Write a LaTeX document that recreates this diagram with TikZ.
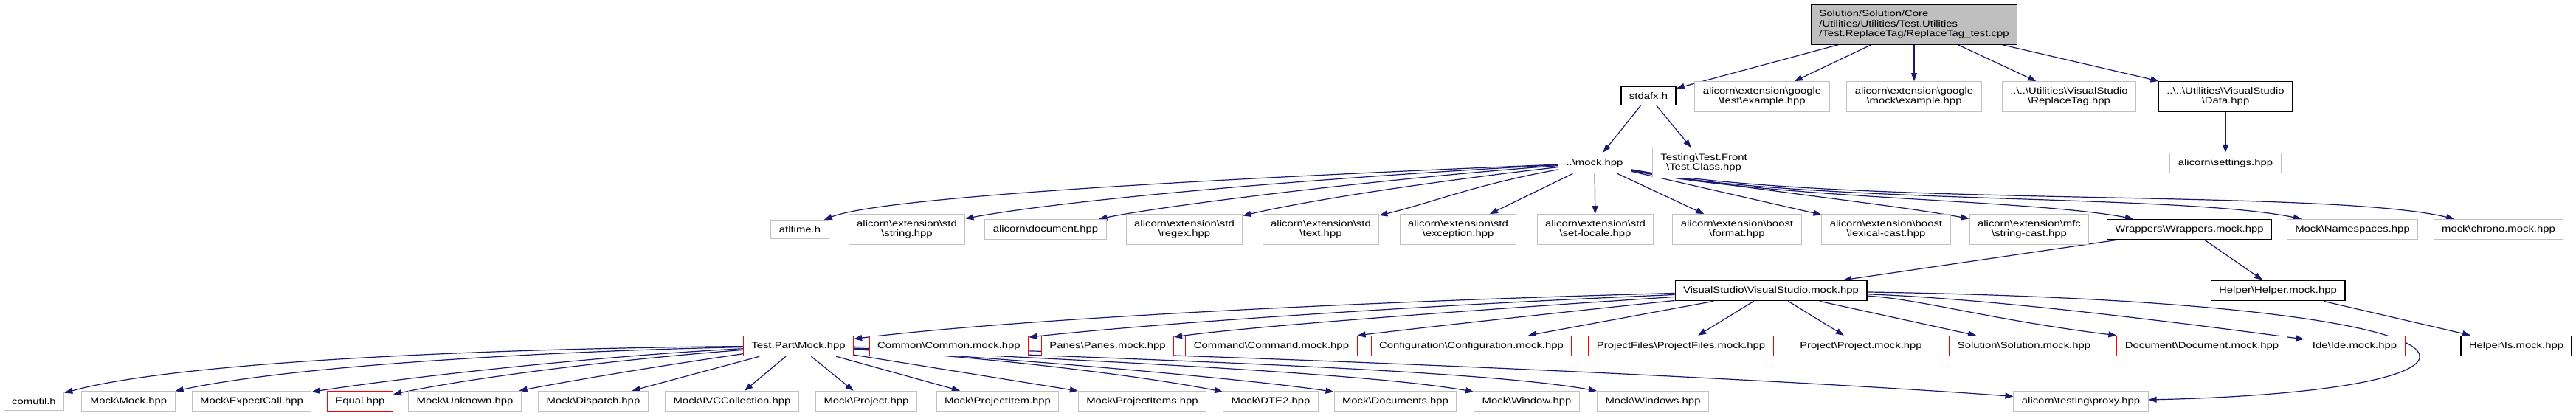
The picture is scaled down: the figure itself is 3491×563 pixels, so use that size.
\documentclass[tikz,border=0pt]{standalone}
\usepackage{fontspec}
\usetikzlibrary{arrows.meta,backgrounds}

\newfontfamily\dotfont{Liberation Sans}[FakeStretch=1.21]
\newcommand{\bks}{\textbackslash}
\definecolor{edgeblue}{HTML}{191970}
\definecolor{boxgray}{HTML}{BFBFBF}

\begin{document}
\begin{tikzpicture}[x=1pt, y=-1pt,
  >={Triangle[length=11pt,width=8pt]},
  file/.style={draw=boxgray, line width=1pt, fill=white, align=center, inner xsep=11pt, inner ysep=8pt,
    minimum height=25pt, font=\dotfont\fontsize{12.3}{13.3}\selectfont},
  doc/.style={file, draw=black, line width=1.3pt},
  redbox/.style={file, draw=red},
  top/.style={doc, fill=boxgray, align=left},
  edge/.style={->, draw=edgeblue, line width=1.2pt}]
  \useasboundingbox (0,0) rectangle (3491,563);

  % source file and its direct includes
  \node[top] (root) at (2594,33) {Solution/Solution/Core\\/Utilities/Utilities/Test.Utilities\\/Test.ReplaceTag/ReplaceTag\_test.cpp};
  \node[doc] (stdafx) at (2234,130) {stdafx.h};
  \node[file] (gtest) at (2388,131) {alicorn\bks extension\bks google\\\bks test\bks example.hpp};
  \node[file] (gmock) at (2594,131) {alicorn\bks extension\bks google\\\bks mock\bks example.hpp};
  \node[file] (rtag) at (2804,131) {..\bks..\bks Utilities\bks VisualStudio\\\bks ReplaceTag.hpp};
  \node[doc] (data) at (3016,131) {..\bks..\bks Utilities\bks VisualStudio\\\bks Data.hpp};

  \node[doc] (mock) at (2161,221) {..\bks mock.hpp};
  \node[file] (tclass) at (2309,221) {Testing\bks Test.Front\\\bks Test.Class.hpp};
  \node[file] (settings) at (3016,221) {alicorn\bks settings.hpp};

  % mock.hpp includes
  \node[file] (atltime) at (1084,311) {atltime.h};
  \node[file] (stdstr) at (1229,311) {alicorn\bks extension\bks std\\\bks string.hpp};
  \node[file] (document) at (1417,311) {alicorn\bks document.hpp};
  \node[file] (regex) at (1605,311) {alicorn\bks extension\bks std\\\bks regex.hpp};
  \node[file] (stdtext) at (1790,311) {alicorn\bks extension\bks std\\\bks text.hpp};
  \node[file] (except) at (1976,311) {alicorn\bks extension\bks std\\\bks exception.hpp};
  \node[file] (locale) at (2162,311) {alicorn\bks extension\bks std\\\bks set-locale.hpp};
  \node[file] (bformat) at (2354,311) {alicorn\bks extension\bks boost\\\bks format.hpp};
  \node[file] (lexcast) at (2556,311) {alicorn\bks extension\bks boost\\\bks lexical-cast.hpp};
  \node[file] (strcast) at (2750,311) {alicorn\bks extension\bks mfc\\\bks string-cast.hpp};
  \node[doc] (wrappers) at (2967,311) {Wrappers\bks Wrappers.mock.hpp};
  \node[file] (nspaces) at (3188,311) {Mock\bks Namespaces.hpp};
  \node[file] (chrono) at (3386,311) {mock\bks chrono.mock.hpp};

  \node[doc] (vsmock) at (2400,394) {VisualStudio\bks VisualStudio.mock.hpp};
  \node[doc] (helper) at (3087,394) {Helper\bks Helper.mock.hpp};

  % VisualStudio.mock.hpp includes
  \node[redbox] (tpmock) at (1082,469) {Test.Part\bks Mock.hpp};
  \node[redbox] (common) at (1286,469) {Common\bks Common.mock.hpp};
  \node[redbox] (panes) at (1501,469) {Panes\bks Panes.mock.hpp};
  \node[redbox] (command) at (1723,469) {Command\bks Command.mock.hpp};
  \node[redbox] (config) at (1994,469) {Configuration\bks Configuration.mock.hpp};
  \node[redbox] (pfiles) at (2278,469) {ProjectFiles\bks ProjectFiles.mock.hpp};
  \node[redbox] (project) at (2522,469) {Project\bks Project.mock.hpp};
  \node[redbox] (solution) at (2743,469) {Solution\bks Solution.mock.hpp};
  \node[redbox] (docmock) at (2984,469) {Document\bks Document.mock.hpp};
  \node[redbox] (ide) at (3191,469) {Ide\bks Ide.mock.hpp};
  \node[doc] (ismock) at (3410,469) {Helper\bks Is.mock.hpp};

  % Test.Part\Mock.hpp includes
  \node[file] (comutil) at (46,544) {comutil.h};
  \node[file] (mmock) at (174,544) {Mock\bks Mock.hpp};
  \node[file] (expcall) at (341,544) {Mock\bks ExpectCall.hpp};
  \node[redbox] (equal) at (488,544) {Equal.hpp};
  \node[file] (unknown) at (630,544) {Mock\bks Unknown.hpp};
  \node[file] (dispatch) at (804,544) {Mock\bks Dispatch.hpp};
  \node[file] (ivc) at (992,544) {Mock\bks IVCCollection.hpp};
  \node[file] (mproject) at (1174,544) {Mock\bks Project.hpp};
  \node[file] (pitem) at (1352,544) {Mock\bks ProjectItem.hpp};
  \node[file] (pitems) at (1548,544) {Mock\bks ProjectItems.hpp};
  \node[file] (dte) at (1722,544) {Mock\bks DTE2.hpp};
  \node[file] (documents) at (1891,544) {Mock\bks Documents.hpp};
  \node[file] (window) at (2069,544) {Mock\bks Window.hpp};
  \node[file] (windows) at (2240,544) {Mock\bks Windows.hpp};
  \node[file] (proxy) at (2820,544) {alicorn\bks testing\bks proxy.hpp};

  \begin{scope}[on background layer]
    \fill[white] (0,0) rectangle (3491,563);

    \draw[edge] (root) -- (stdafx);
    \draw[edge] (root) -- (gtest);
    \draw[edge] (root) -- (gmock);
    \draw[edge] (root) -- (rtag);
    \draw[edge] (root) -- (data);
    \draw[edge] (stdafx) -- (mock);
    \draw[edge] (stdafx) -- (tclass);
    \draw[edge] (data) -- (settings);

    \draw[edge] (mock) .. controls (1700,240) and (1200,265) .. (atltime);
    \draw[edge] (mock) .. controls (1800,240) and (1450,270) .. (stdstr);
    \draw[edge] (mock) .. controls (1900,240) and (1600,275) .. (document);
    \draw[edge] (mock) .. controls (1950,245) and (1780,270) .. (regex);
    \draw[edge] (mock) .. controls (2000,250) and (1940,275) .. (stdtext);
    \draw[edge] (mock) -- (except);
    \draw[edge] (mock) -- (locale);
    \draw[edge] (mock) -- (bformat);
    \draw[edge] (mock) -- (lexcast);
    \draw[edge] (mock) .. controls (2350,255) and (2550,275) .. (strcast);
    \draw[edge] (mock) .. controls (2400,270) and (2750,270) .. (wrappers);
    \draw[edge] (mock) .. controls (2450,278) and (2950,262) .. (nspaces);
    \draw[edge] (mock) .. controls (2500,282) and (3150,255) .. (chrono);

    \draw[edge] (wrappers) -- (vsmock);
    \draw[edge] (wrappers) -- (helper);
    \draw[edge] (helper) -- (ismock);

    \draw[edge] (vsmock) .. controls (1800,410) and (1350,435) .. (tpmock);
    \draw[edge] (vsmock) .. controls (1900,415) and (1550,440) .. (common);
    \draw[edge] (vsmock) .. controls (2000,420) and (1700,442) .. (panes);
    \draw[edge] (vsmock) .. controls (2100,425) and (1920,445) .. (command);
    \draw[edge] (vsmock) -- (config);
    \draw[edge] (vsmock) -- (pfiles);
    \draw[edge] (vsmock) -- (project);
    \draw[edge] (vsmock) -- (solution);
    \draw[edge] (vsmock) .. controls (2600,405) and (2700,434) .. (docmock);
    \draw[edge] (vsmock) .. controls (2700,405) and (2950,437) .. (ide);
    \draw[edge] (vsmock) .. controls (3450,410) and (3450,530) .. (proxy);

    \draw[edge] (tpmock) .. controls (700,472) and (250,488) .. (comutil);
    \draw[edge] (tpmock) .. controls (750,476) and (400,495) .. (mmock);
    \draw[edge] (tpmock) .. controls (820,482) and (560,510) .. (expcall);
    \draw[edge] (tpmock) .. controls (850,486) and (650,510) .. (equal);
    \draw[edge] (tpmock) .. controls (900,495) and (780,515) .. (unknown);
    \draw[edge] (tpmock) -- (dispatch);
    \draw[edge] (tpmock) -- (ivc);
    \draw[edge] (tpmock) -- (mproject);
    \draw[edge] (tpmock) -- (pitem);
    \draw[edge] (tpmock) -- (pitems);
    \draw[edge] (tpmock) .. controls (1350,485) and (1550,510) .. (dte);
    \draw[edge] (tpmock) .. controls (1400,488) and (1700,515) .. (documents);
    \draw[edge] (tpmock) .. controls (1450,488) and (1850,505) .. (window);
    \draw[edge] (tpmock) .. controls (1500,486) and (2000,500) .. (windows);
    \draw[edge] (tpmock) .. controls (1600,478) and (2350,510) .. (proxy);
  \end{scope}
\end{tikzpicture}
\end{document}
